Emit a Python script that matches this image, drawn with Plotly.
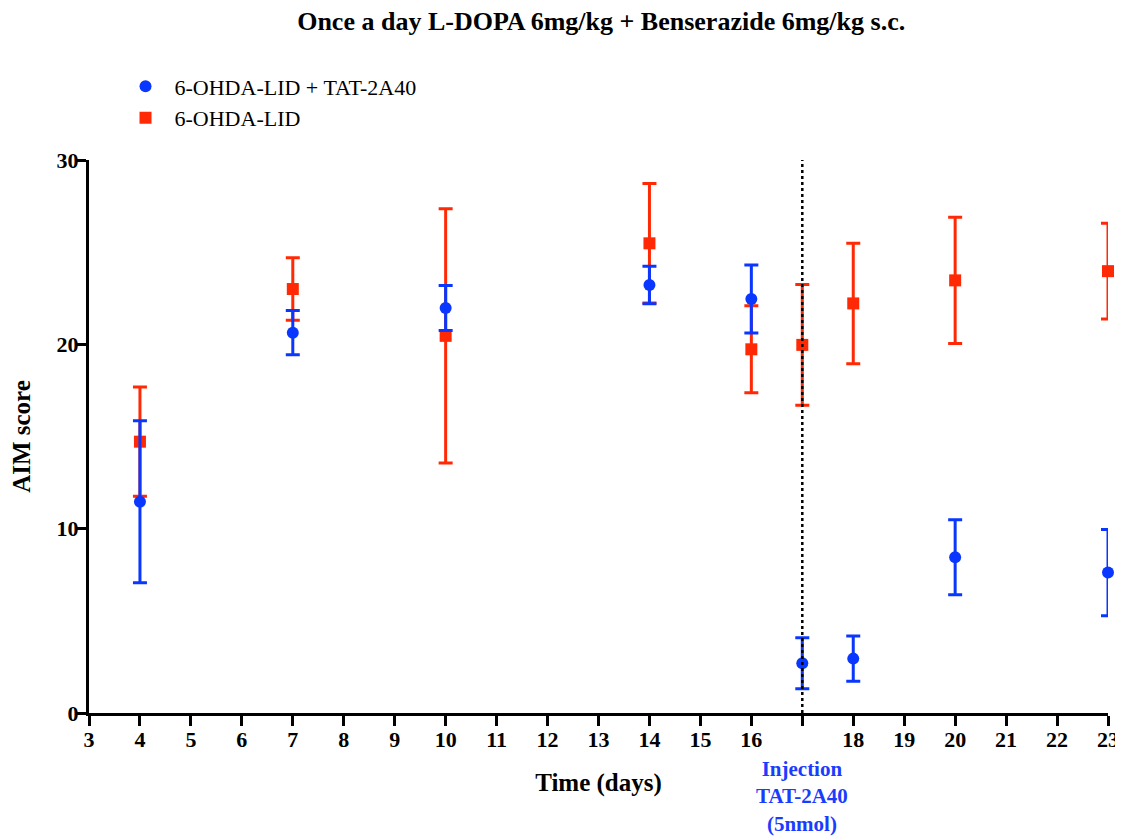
import plotly.graph_objects as go

days = [4, 7, 10, 14, 16, 17, 18, 20, 23]
tat_mean = [11.46, 20.63, 21.97, 23.22, 22.46, 2.70, 2.95, 8.45, 7.62]
tat_sem = [4.40, 1.20, 1.22, 1.02, 1.85, 1.38, 1.23, 2.03, 2.34]
lid_mean = [14.72, 23.00, 20.46, 25.48, 19.73, 19.97, 22.22, 23.47, 23.97]
lid_sem = [2.96, 1.70, 6.90, 3.24, 2.36, 3.27, 3.27, 3.42, 2.60]

sig_days = [17, 18, 20, 23]
x_ticks = list(range(3, 24))
x_labels = ['' if d == 17 else str(d) for d in x_ticks]
injection_day = 17

BLUE = '#0a37ff'
RED = '#ff2a05'
FONT = 'Liberation Serif'

fig = go.Figure()

# red first so the blue bars sit on top, legend order fixed via legendrank
fig.add_trace(go.Scatter(x=days, y=lid_mean, mode='markers', name='6-OHDA-LID',
                         marker=dict(symbol='square', size=12, color=RED),
                         error_y=dict(type='data', array=lid_sem, color=RED, thickness=3, width=7),
                         cliponaxis=False, legendrank=2))
fig.add_trace(go.Scatter(x=days, y=tat_mean, mode='markers', name='6-OHDA-LID + TAT-2A40',
                         marker=dict(symbol='circle', size=12, color=BLUE),
                         error_y=dict(type='data', array=tat_sem, color=BLUE, thickness=3, width=7),
                         cliponaxis=False, legendrank=1))

fig.add_shape(type='line', x0=injection_day, x1=injection_day, y0=0, y1=30,
              line=dict(color='black', width=2.5, dash='dot'))

for d in sig_days:
    fig.add_annotation(x=d, y=31.0, text='<b>**</b>', showarrow=False,
                       font=dict(size=24, color='black', family=FONT))

fig.add_annotation(x=injection_day, y=-0.076, yref='paper', yanchor='top',
                   text='<b>Injection<br>TAT-2A40<br>(5nmol)</b>', showarrow=False,
                   font=dict(size=21, color='#1a3cff', family=FONT))

# page body has an 8px margin, so the figure is a little smaller than the window
fig.update_layout(
    width=1115, height=831,
    margin=dict(l=81, r=15, t=152, b=126),
    plot_bgcolor='white', paper_bgcolor='white',
    font=dict(family=FONT, color='black'),
    title=dict(text='<b>Once a day L-DOPA 6mg/kg + Benserazide 6mg/kg s.c.</b>',
               x=0.532, xanchor='center', y=0.995, yanchor='top',
               font=dict(size=26, family=FONT)),
    legend=dict(x=0.027, y=1.171, xanchor='left', yanchor='top',
                font=dict(size=22, family=FONT), itemsizing='constant',
                bgcolor='rgba(0,0,0,0)', tracegroupgap=0, itemwidth=48),
    showlegend=True,
)

fig.update_xaxes(range=[3, 23], tickvals=x_ticks, ticktext=x_labels, automargin=False,
                 showline=True, linecolor='black', linewidth=3,
                 ticks='outside', ticklen=10, tickwidth=3, tickcolor='black',
                 showgrid=False, zeroline=False, ticklabelstandoff=-5,
                 tickfont=dict(size=22, family=FONT, weight='bold'),
                 title=dict(text='<b>Time (days)</b>', font=dict(size=25, family=FONT), standoff=23))
fig.update_yaxes(range=[0, 30], tickvals=[0, 10, 20, 30], automargin=False,
                 showline=True, linecolor='black', linewidth=3,
                 ticks='outside', ticklen=10, tickwidth=3, tickcolor='black',
                 showgrid=False, zeroline=False, ticklabelstandoff=-7,
                 tickfont=dict(size=22, family=FONT, weight='bold'),
                 title=dict(text='<b>AIM score</b>', font=dict(size=25, family=FONT), standoff=20))

fig.write_html('out.html')
